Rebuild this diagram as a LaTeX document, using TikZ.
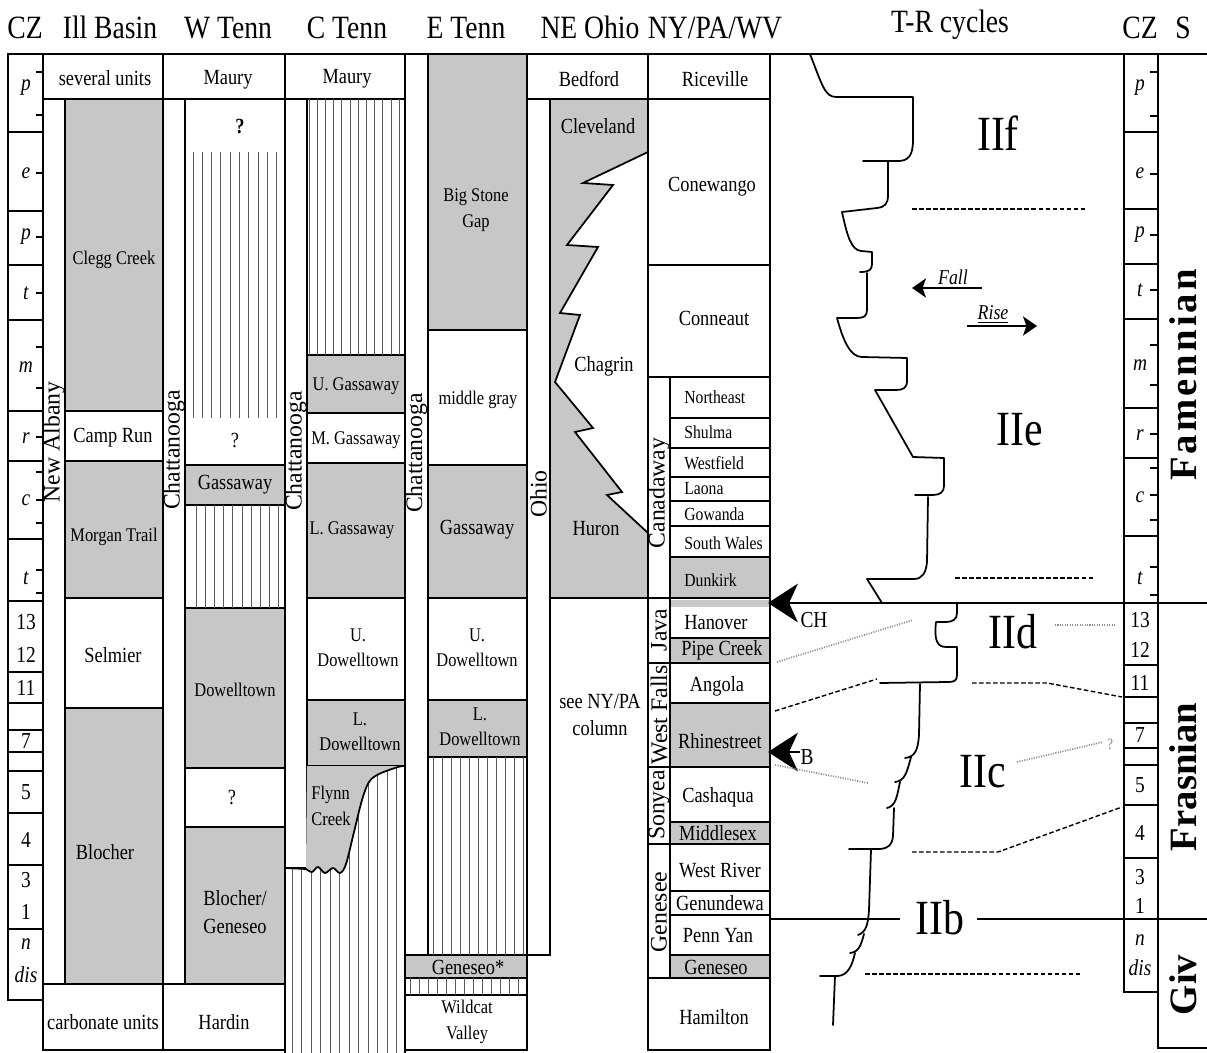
\documentclass[tikz,border=0pt]{standalone}
\usepackage{fontspec}
\setmainfont{Liberation Serif}
\newfontfamily\narrowfont[FakeStretch=0.85]{Liberation Serif}
\usetikzlibrary{arrows.meta}

\definecolor{unitgray}{gray}{0.78}
\definecolor{hatchgray}{gray}{0.35}
\definecolor{dotgray}{gray}{0.55}

\tikzset{
  box/.style={draw, line width=1pt},
  czline/.style={draw, line width=0.7pt},
  unit/.style={font=\narrowfont\fontsize{12.3}{15.5}\selectfont, align=center, inner sep=0pt},
  smallunit/.style={font=\narrowfont\fontsize{11}{14.5}\selectfont, align=center, inner sep=0pt},
  tinyunit/.style={font=\narrowfont\fontsize{10.5}{12}\selectfont, anchor=west, inner sep=0pt},
  leftunit/.style={unit, anchor=west},
  group/.style={rotate=90, font=\fontsize{13.5}{14}\selectfont, inner sep=0pt},
  stage/.style={rotate=90, font=\bfseries\fontsize{22}{24}\selectfont, inner sep=0pt},
  head/.style={font=\narrowfont\fontsize{18.5}{20}\selectfont, anchor=base, inner sep=0pt},
  zone/.style={font=\narrowfont\fontsize{13}{14}\selectfont, inner sep=0pt},
  cyclelab/.style={font=\narrowfont\fontsize{28}{30}\selectfont, inner sep=0pt},
  hatch/.style={line width=0.5pt, hatchgray},
  trline/.style={line width=1pt, line join=round, line cap=round},
  dashline/.style={line width=0.8pt, dash pattern=on 2.6pt off 1.4pt},
  dotline/.style={line width=1pt, dotgray, dash pattern=on 0.6pt off 0.8pt},
  bigtip/.style={-{Stealth[length=17pt, width=22pt, inset=5pt]}},
  smalltip/.style={-{Stealth[length=8pt, width=11pt, inset=2pt]}},
}

\newcommand{\flynnedge}{-- plot[smooth, tension=0.55] coordinates {(306,869) (312,872) (318,867) (325,873) (333,868) (340,873) (346,864) (354,832) (362,800) (369,782) (379,774) (398,767) (405,766)}}

\begin{document}
\begin{tikzpicture}[x=0.02cm, y=-0.02cm]
\useasboundingbox (0,0) rectangle (1207,1053);

% Column heads
\foreach \x/\y/\txt [count=\i] in {25/39/CZ, 110/39/Ill Basin, 228/39/W Tenn, 347/39/C Tenn, 466/39/E Tenn, 590/39/NE Ohio, 715/39/{NY/PA/WV}, 950/33/T-R cycles, 1140/39/CZ, 1183/39/S}
  \node[head] (head\i) at (\x,\y) {\txt};
\draw[box] (8,54) -- (1207,54);

% Conodont zones, left
\draw[box] (8,54) rectangle (43,1000);
\foreach \y in {132,211,265,320,411,461,539,601,672,703,730,752,771,813,865,929} \draw[czline] (8,\y) -- (43,\y);
\foreach \y in {72,115,173,237,293,347,388,437,472,500,523,570,593} \draw[czline] (36,\y) -- (43,\y);
\foreach \y/\txt [count=\i] in {88/\textit{p}, 173/\textit{e}, 237/\textit{p}, 293/\textit{t}, 367/\textit{m}, 438/\textit{r}, 500/\textit{c}, 578/\textit{t}, 622/13, 655/12, 688/11, 741/7, 792/5, 840/4, 880/3, 912/1, 944/\textit{n}, 975/\textit{dis}}
  \node[zone] (czl\i) at (26,\y) {\txt};

% Conodont zones, right
\draw[box] (1124,54) rectangle (1158,992);
\foreach \y in {132,209,264,319,408,458,536,665,697,723,748,765,805,858} \draw[czline] (1124,\y) -- (1158,\y);
\foreach \y in {72,116,174,235,290,345,385,434,468,495,520,567,595} \draw[czline] (1150,\y) -- (1158,\y);
\foreach \y/\txt [count=\i] in {88/\textit{p}, 173/\textit{e}, 235/\textit{p}, 290/\textit{t}, 365/\textit{m}, 435/\textit{r}, 497/\textit{c}, 578/\textit{t}, 620/13, 650/12, 683/11, 735/7, 785/5, 833/4, 877/3, 906/1, 940/\textit{n}, 968/\textit{dis}}
  \node[zone] (czr\i) at (1140,\y) {\txt};

% Stages
\draw[box] (1158,54) -- (1158,1048) -- (1207,1048);
\node[stage] (famennian) at (1183,375) {\addfontfeature{LetterSpace=8}Famennian};
\node[stage] (frasnian) at (1183,777) {Frasnian};
\node[stage] (givetian) at (1183,985) {Giv};

% Narrow group columns
\foreach \xa/\xb/\ya/\yb/\ty/\txt [count=\i] in {43/65/99/984/442/New Albany, 163/185/99/984/450/Chattanooga, 285/307/99/868/451/Chattanooga, 405/428/54/955/453/Chattanooga, 527/550/99/955/494/Ohio}
  { \draw[box] (\xa,\ya) rectangle (\xb,\yb);
    \node[group] (grp\i) at ({(\xa+\xb)/2},\ty) {\txt}; }

% Ill Basin
\foreach \xa/\ya/\yb/\col/\tx/\ty/\st/\txt [count=\i] in {43/54/99/white/105/78/unit/several units, 65/99/411/unitgray/114/260/smallunit/Clegg Creek, 65/411/461/white/113/438/unit/Camp Run, 65/461/598/unitgray/114/537/smallunit/Morgan Trail, 65/598/708/white/113/655/unit/Selmier, 65/708/984/unitgray/105/852/unit/Blocher, 43/984/1050/white/103/1022/unit/carbonate units}
  { \draw[box, fill=\col] (\xa,\ya) rectangle (163,\yb);
    \node[\st] (ill\i) at (\tx,\ty) {\txt}; }

% W Tenn
\foreach \xa/\ya/\yb/\col/\tx/\ty/\st/\txt [count=\i] in {163/54/99/white/228/80/unit/Maury, 185/99/465/white/240/127/unit/\textbf{?}, 185/465/505/unitgray/235/485/unit/Gassaway, 185/505/608/white/235/556/unit/{}, 185/608/768/unitgray/235/690/smallunit/Dowelltown, 185/768/827/white/232/797/unit/?, 185/827/984/unitgray/235/912/unit/{Blocher/\\Geneseo}, 163/984/1050/white/224/1022/unit/Hardin}
  { \draw[box, fill=\col] (\xa,\ya) rectangle (285,\yb);
    \node[\st] (wtenn\i) at (\tx,\ty) {\txt}; }
\node[unit] (wtennq) at (235,441) {?};
\foreach \x in {193,202.3,...,278} \draw[hatch] (\x,152) -- (\x,418);
\foreach \x in {196,205.2,...,281} \draw[hatch] (\x,505) -- (\x,608);

% C Tenn
\foreach \xa/\ya/\yb/\col/\tx/\ty/\st/\txt [count=\i] in {285/54/99/white/347/79/unit/Maury, 307/99/355/white/356/227/unit/{}, 307/355/413/unitgray/356/386/smallunit/U. Gassaway, 307/413/463/white/356/440/smallunit/M. Gassaway, 307/463/598/unitgray/352/530/smallunit/L. Gassaway, 307/598/700/white/358/648/smallunit/{U.\\Dowelltown}, 307/700/766/unitgray/360/732/smallunit/{L.\\Dowelltown}}
  { \draw[box, fill=\col] (\xa,\ya) rectangle (405,\yb);
    \node[\st] (ctenn\i) at (\tx,\ty) {\txt}; }
\foreach \x in {309,317.2,...,401} \draw[hatch] (\x,99) -- (\x,355);
\begin{scope}
  \clip (285,868) \flynnedge -- (405,1053) -- (285,1053) -- cycle;
  \foreach \x in {292,301.5,...,401} \draw[hatch] (\x,760) -- (\x,1053);
\end{scope}
\fill[unitgray] (307,766) \flynnedge -- cycle;
\draw[box] (285,868) \flynnedge;
\draw[box] (285,1053) -- (285,868);
\draw[box] (405,766) -- (405,1053);
\node[smallunit, align=left] (flynn) at (331,806) {Flynn\\Creek};

% E Tenn
\foreach \xa/\ya/\yb/\col/\tx/\ty/\st/\txt [count=\i] in {428/54/330/unitgray/476/210/smallunit/{Big Stone\\Gap}, 428/330/465/white/478/400/smallunit/middle gray, 428/465/598/unitgray/477/530/unit/Gassaway, 428/598/700/white/477/648/smallunit/{U.\\Dowelltown}, 428/700/757/unitgray/480/727/smallunit/{L.\\Dowelltown}, 428/757/955/white/477/856/unit/{}, 405/955/978/unitgray/468/967/unit/Geneseo*, 405/978/995/white/466/987/unit/{}, 405/995/1050/white/467/1022/smallunit/{Wildcat\\Valley}}
  { \draw[box, fill=\col] (\xa,\ya) rectangle (527,\yb);
    \node[\st] (etenn\i) at (\tx,\ty) {\txt}; }
\foreach \x in {433,442,...,524} \draw[hatch] (\x,757) -- (\x,955);
\foreach \x in {410,419,...,524} \draw[hatch] (\x,978) -- (\x,995);

% NE Ohio
\draw[box] (527,54) rectangle (648,99);
\node[unit] (bedford) at (589,79) {Bedford};
\filldraw[box, fill=unitgray] (550,99) -- (648,99) -- (648,152) -- (583,183) -- (613,185) -- (567,245) -- (598,247) -- (560,313) -- (580,315) -- (555,382) -- (593,428) -- (575,432) -- (622,492) -- (607,495) -- (648,533) -- (648,598) -- (550,598) -- cycle;
\node[unit] (cleveland) at (598,126) {Cleveland};
\node[unit] (chagrin) at (604,366) {Chagrin};
\node[unit] (huron) at (596,529) {Huron};
\node[unit] (seecol) at (600,715) {see NY/PA\\column};

% NY/PA/WV
\foreach \xa/\ya/\yb/\col/\tx/\ty/\st/\txt [count=\i] in {648/54/99/white/715/79/unit/Riceville, 648/99/265/white/712/187/unit/Conewango, 648/265/377/white/714/318/unit/Conneaut, 670/377/418/white/684/397/tinyunit/Northeast, 670/418/448/white/684/432/tinyunit/Shulma, 670/448/477/white/684/463/tinyunit/Westfield, 670/477/501/white/684/489/tinyunit/Laona, 670/501/526/white/684/514/tinyunit/Gowanda, 670/526/557/white/684/543/tinyunit/South Wales, 670/557/598/unitgray/684/580/tinyunit/Dunkirk, 670/598/638/white/684/623/leftunit/Hanover, 670/638/663/unitgray/681/650/leftunit/Pipe Creek, 670/663/703/white/717/686/unit/Angola, 670/703/767/unitgray/720/741/unit/Rhinestreet, 670/767/822/white/718/797/unit/Cashaqua, 670/822/844/unitgray/718/833/unit/Middlesex, 670/844/891/white/720/871/unit/West River, 670/891/915/white/720/903/unit/Genundewa, 670/915/955/white/718/936/unit/Penn Yan, 670/955/978/unitgray/716/967/unit/Geneseo, 648/978/1050/white/714/1017/unit/Hamilton}
  { \draw[box, fill=\col] (\xa,\ya) rectangle (770,\yb);
    \node[\st] (ny\i) at (\tx,\ty) {\txt}; }
\fill[unitgray] (671,600) rectangle (769,607);
\foreach \ya/\yb/\ty/\txt [count=\i] in {377/598/493/Canadaway, 598/663/630/Java, 663/767/715/West Falls, 767/844/805/Sonyea, 844/978/912/Genesee}
  { \draw[box] (648,\ya) rectangle (670,\yb);
    \node[group] (nygrp\i) at (659,\ty) {\txt}; }

% T-R cycle curve
\draw[trline] (810,54) .. controls (822,85) and (825,97) .. (836,97) -- (913,97) -- (913,140) .. controls (913,156) and (908,161) .. (898,161) -- (863,161);
\draw[trline] (888,162) -- (888,195) .. controls (888,204) and (885,207) .. (877,208) -- (842,212) .. controls (847,235) and (851,250) .. (861,251) -- (872,252) -- (872,264) .. controls (872,270) and (869,272) .. (860,272);
\draw[trline] (867,273) -- (867,310) .. controls (867,316) and (864,318) .. (857,318) -- (837,318) .. controls (843,340) and (850,357) .. (862,357) -- (907,358) -- (907,381) .. controls (907,388) and (903,390) .. (896,390) -- (875,390) -- (913,457) -- (944,458) -- (944,486) .. controls (944,492) and (940,495) .. (933,495) -- (915,495);
\draw[trline] (928,497) -- (927,562) .. controls (926,573) and (922,579) .. (914,579) -- (867,579) -- (882,603) -- (957,603) -- (957,613) .. controls (957,619) and (953,622) .. (946,622) -- (936,622) .. controls (934,640) and (937,647) .. (946,647) -- (957,647) -- (957,675) .. controls (957,681) and (954,682) .. (948,682) -- (880,683);
\draw[trline] (920,684) -- (919,735) .. controls (918,750) and (915,757) .. (905,758);
\draw[trline] (911,757) .. controls (907,772) and (905,781) .. (895,782);
\draw[trline] (900,782) .. controls (897,796) and (896,806) .. (887,808);
\draw[trline] (894,808) -- (893,836) .. controls (892,845) and (889,848) .. (880,849) -- (849,849);
\draw[trline] (871,850) -- (869,910) .. controls (868,925) and (866,932) .. (858,935);
\draw[trline] (864,934) .. controls (861,945) and (859,952) .. (850,953);
\draw[trline] (855,953) .. controls (852,966) and (848,975) .. (838,976) -- (820,976);
\draw[trline] (835,976) -- (833,1025);

% Cycle boundaries
\coordinate (chtip) at (768,603);
\coordinate (btip) at (768,752);
\draw[box, bigtip] (1207,603) -- (chtip);
\draw[box, bigtip] (800,752) -- (btip);
\node[zone] (ch) at (814,620) {CH};
\node[zone] (b) at (807,757) {B};
\draw[box] (770,919) -- (900,919);
\draw[box] (977,919) -- (1207,919);
\draw[dashline] (912,209) -- (1085,209);
\draw[dashline] (955,578) -- (1093,578);
\draw[dotline] (1055,625) -- (1115,625);
\draw[dotline] (777,662) -- (913,620);
\draw[dashline] (775,711) -- (877,679);
\draw[dashline] (972,683) -- (1047,683) -- (1122,697);
\draw[dotline] (775,765) -- (868,783);
\draw[dotline] (1017,762) -- (1103,742);
\node[font=\narrowfont\fontsize{9}{10}\selectfont, text=dotgray, inner sep=0pt] (qmark) at (1110,744) {?};
\draw[dashline] (912,852) -- (998,852) -- (1122,807);
\draw[dashline] (865,974) -- (1080,974);

% Cycle names
\node[cyclelab] (iif) at (998,133) {IIf};
\node[cyclelab] (iie) at (1020,430) {IIe};
\node[cyclelab] (iid) at (1013,632) {IId};
\node[cyclelab] (iic) at (983,772) {IIc};
\node[cyclelab] (iib) at (940,918) {IIb};

% Fall and rise
\coordinate (fallstart) at (982,288);
\coordinate (fallend) at (912,288);
\coordinate (risestart) at (967,326);
\coordinate (riseend) at (1037,326);
\draw[line width=1pt, smalltip] (fallstart) -- (fallend);
\draw[line width=1pt, smalltip] (risestart) -- (riseend);
\node[zone, font=\narrowfont\itshape\fontsize{12}{13}\selectfont, anchor=base] (fall) at (953,285) {Fall};
\node[zone, font=\narrowfont\itshape\fontsize{12}{13}\selectfont, anchor=base] (rise) at (993,320) {\underline{Rise}};
\end{tikzpicture}
\end{document}
